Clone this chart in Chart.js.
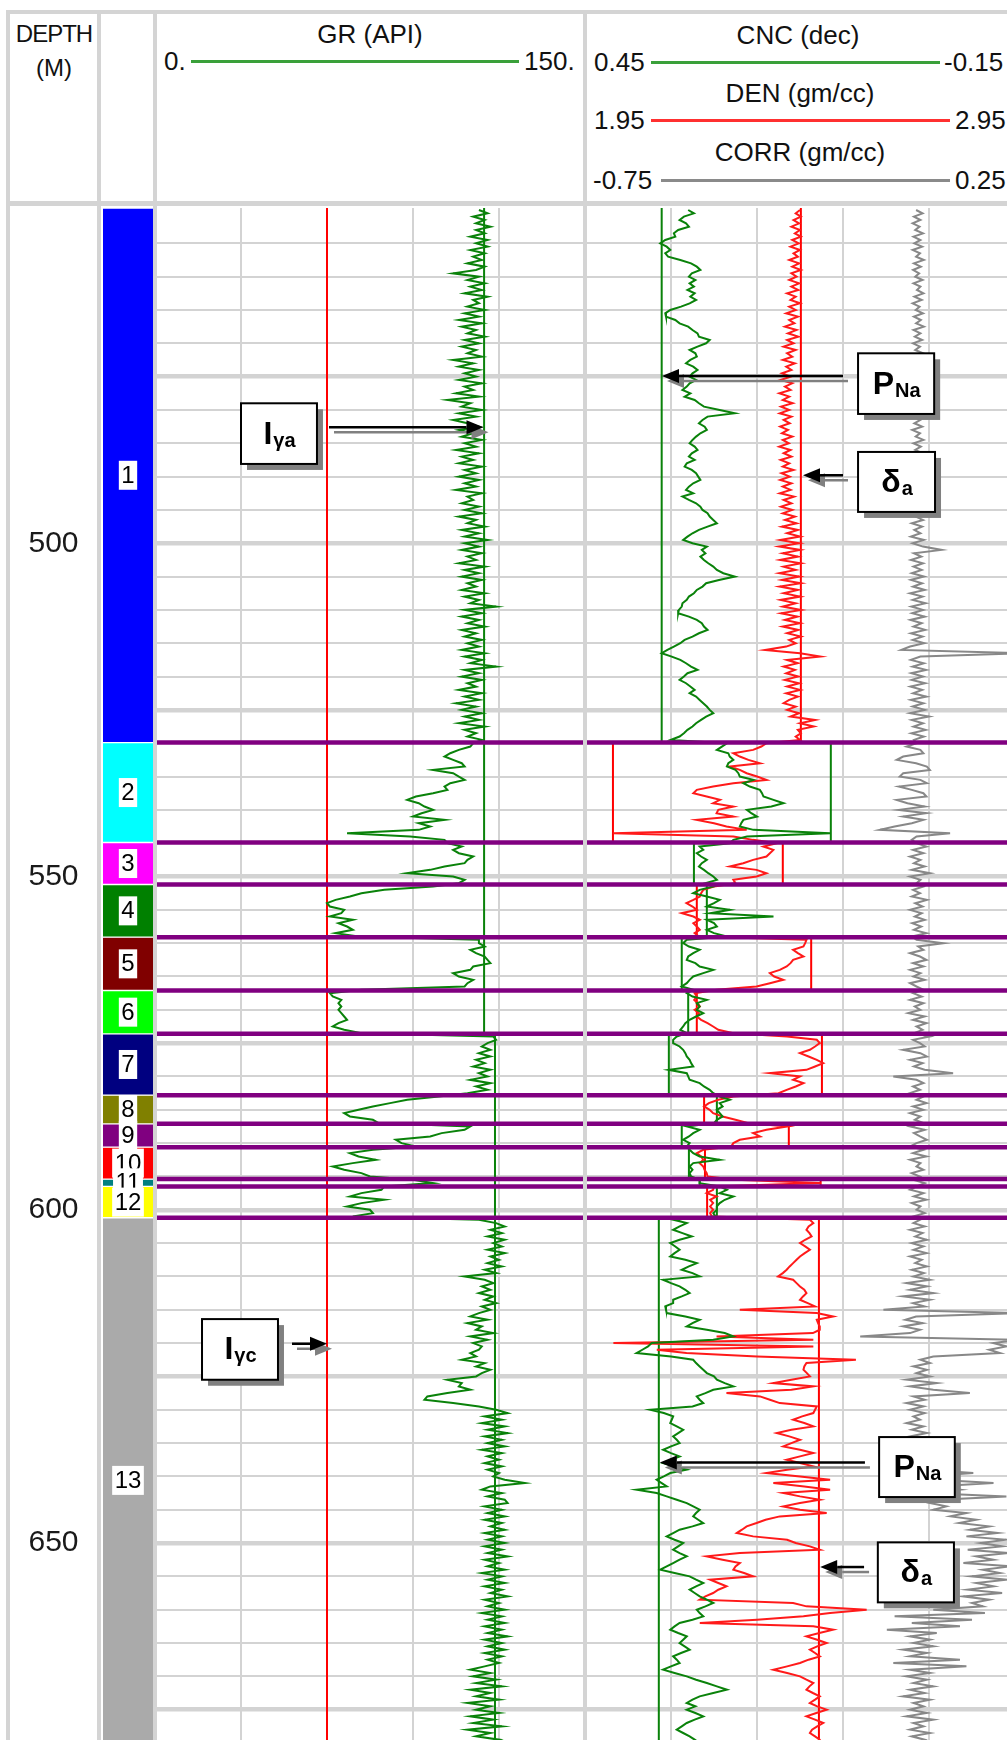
<!DOCTYPE html>
<html>
<head>
<meta charset="utf-8">
<script src="https://cdn.jsdelivr.net/npm/chart.js@4.4.1/dist/chart.umd.min.js"></script>
<style>
  body { margin: 0; background: #fff; }
  #log { position: relative; width: 1007px; height: 1740px; overflow: hidden;
         font-family: "Liberation Sans", Arial, sans-serif; color: #111; }
  #log canvas { position: absolute; }
  .sep { position: absolute; background: #d4d4d4; z-index: 3; }
  .t { position: absolute; white-space: nowrap; line-height: 1; font-size: 26px; }
  .c { transform: translate(-50%, -50%); }
  .l { transform: translateY(-50%); }
  .sw { position: absolute; height: 3px; }
</style>
</head>
<body>
<div id="log">
  <!-- header -->
  <div class="t c" style="left:54px;top:34px;font-size:24px;letter-spacing:-1px">DEPTH</div>
  <div class="t c" style="left:54px;top:68px;font-size:24px">(M)</div>

  <div class="t c" style="left:370px;top:34px">GR (API)</div>
  <div class="t l" style="left:164px;top:61px">0.</div>
  <div class="sw" style="left:191px;top:60px;width:328px;background:#3aa03a"></div>
  <div class="t l" style="left:524px;top:61px">150.</div>

  <div class="t c" style="left:798px;top:35px">CNC (dec)</div>
  <div class="t l" style="left:594px;top:62px">0.45</div>
  <div class="sw" style="left:651px;top:61px;width:289px;background:#3aa03a"></div>
  <div class="t l" style="left:944px;top:62px">-0.15</div>

  <div class="t c" style="left:800px;top:93px">DEN (gm/cc)</div>
  <div class="t l" style="left:594px;top:120px">1.95</div>
  <div class="sw" style="left:651px;top:119px;width:299px;background:#ff3030"></div>
  <div class="t l" style="left:955px;top:120px">2.95</div>

  <div class="t c" style="left:800px;top:152px">CORR (gm/cc)</div>
  <div class="t l" style="left:593px;top:180px">-0.75</div>
  <div class="sw" style="left:661px;top:179px;width:289px;background:#8a8a8a"></div>
  <div class="t l" style="left:955px;top:180px">0.25</div>

  <canvas id="zones" width="143" height="1535" style="left:10px;top:208px"></canvas>
  <canvas id="grTrack" width="430" height="1535" style="left:155px;top:208px"></canvas>
  <canvas id="cncTrack" width="430" height="1535" style="left:585px;top:208px"></canvas>

  <!-- frame -->
  <div class="sep" style="left:6px;top:10px;width:1001px;height:4px"></div>
  <div class="sep" style="left:6px;top:201px;width:1001px;height:5px"></div>
  <div class="sep" style="left:6px;top:10px;width:4px;height:1730px"></div>
  <div class="sep" style="left:97px;top:10px;width:4px;height:1730px"></div>
  <div class="sep" style="left:153px;top:10px;width:4px;height:1730px"></div>
  <div class="sep" style="left:583px;top:10px;width:4px;height:1730px"></div>
</div>

<script>
// depth axis
const depthTop = 450      // first log sample, m
const depthStep = 0.5     // sample spacing, m
const depthMin = 449.7
const depthMax = 680
const depthTicks = [500, 550, 600, 650]

// zonation
const zoneNames = ['1','2','3','4','5','6','7','8','9','10','11','12','13']
const zoneTops = [449.7, 529.9, 544.9, 551.2, 559.1, 567.1, 573.6, 582.8, 587.1, 590.6, 595.4, 596.5, 601.2]
const zoneColors = ['#0000ff','#00ffff','#ff00ff','#008000','#800000','#00ff00','#000080',
                    '#808000','#800080','#ff0000','#008080','#ffff00','#aaaaaa']
// per-zone baselines read in the CNC track
const cncBase = [0.343, 0.107, 0.298, 0.280, 0.315, 0.306, 0.333, 0.266, 0.315, 0.305, 0.290, 0.266, 0.347]
const denBase = [2.452, 2.015, 2.410, 2.210, 2.476, 2.210, 2.501, 2.227, 2.424, 2.229, 2.498, 2.234, 2.494]
// GR lines: [value, from depth, to depth]
const grRefs = [[60, 449.7, 680], [114.8, 449.7, 573.6], [118.6, 573.6, 680]]

// GR (API), one row = 5 m
const gr = [
  113,116,111,115,112,117,112,115,110,116,
  112,116,110,115,111,114,109,115,112,104,
  113,109,115,110,114,108,116,111,113,109,
  115,108,113,106,114,107,112,109,115,108,
  113,107,112,109,114,104,111,106,113,108,
  112,106,114,108,111,105,113,102,110,107,
  114,106,112,104,109,113,106,111,107,114,
  108,112,105,113,107,111,106,114,108,112,
  106,113,108,112,105,114,109,111,107,113,
  108,114,106,112,109,115,107,113,108,116,
  108,113,107,114,109,112,106,115,108,113,
  107,114,109,112,107,115,108,113,110,119,
  108,114,107,113,109,115,107,112,108,114,
  109,113,107,115,108,114,110,119,108,113,
  107,114,109,112,106,114,108,113,105,112,
  107,114,108,113,106,115,108,112,109,114,
  111,110,106,103,101,104,107,108,97,104,
  106,108,103,101,102,97,91,88,92,94,
  97,93,90,101,92,96,92,67,89,101,
  102,107,104,106,111,109,108,101,96,88,
  104,108,106,97,80,72,68,63,60,61,
  66,65,61,69,64,67,69,63,71,113,
  113,115,110,112,115,116,117,111,110,104,
  106,111,109,108,72,61,62,65,64,65,
  64,65,66,67,64,62,66,72,118,119,
  116,114,117,113,117,112,115,111,117,113,
  116,110,117,112,116,109,99,88,82,76,
  71,66,68,76,78,110,108,100,96,84,
  86,91,76,68,71,77,69,62,66,72,
  75,90,97,80,79,72,68,80,72,67,
  75,76,69,113,119,122,117,121,116,122,
  118,121,116,122,117,120,116,121,115,119,
  108,115,118,114,117,113,118,115,119,114,
  117,113,110,116,109,114,112,118,110,116,
  111,114,113,110,112,107,115,112,117,114,
  112,102,107,106,110,102,95,94,104,113,
  119,123,115,121,114,122,116,123,115,121,
  116,122,114,121,116,120,115,121,116,120,
  118,122,129,117,114,121,116,122,123,115,
  121,116,122,115,121,117,122,115,121,116,
  122,115,121,116,123,115,120,116,122,114,
  121,116,122,115,121,117,123,115,120,116,
  122,114,121,116,122,115,121,116,123,115,
  121,116,122,115,121,116,120,115,110,117,
  111,119,112,121,110,117,112,120,109,117,
  112,120,110,118,111,121,109,117,112,120,
  116
]

// CNC (dec)
const cnc = [
  0.306,0.298,0.312,0.318,0.309,0.305,0.320,0.326,0.324,0.338,
  0.345,0.336,0.331,0.338,0.334,0.317,0.302,0.294,0.289,0.301,
  0.305,0.296,0.304,0.298,0.307,0.297,0.303,0.295,0.304,0.316,
  0.331,0.338,0.337,0.324,0.318,0.306,0.300,0.293,0.291,0.276,
  0.281,0.293,0.304,0.296,0.294,0.303,0.309,0.299,0.293,0.300,
  0.304,0.295,0.304,0.308,0.314,0.303,0.311,0.297,0.291,0.284,
  0.262,0.241,0.279,0.286,0.291,0.283,0.280,0.289,0.295,0.300,
  0.304,0.297,0.293,0.301,0.305,0.297,0.308,0.311,0.301,0.295,
  0.292,0.289,0.299,0.305,0.309,0.299,0.314,0.305,0.295,0.289,
  0.286,0.279,0.276,0.271,0.266,0.279,0.291,0.300,0.307,0.313,
  0.300,0.280,0.287,0.282,0.289,0.284,0.278,0.271,0.266,0.257,
  0.241,0.263,0.281,0.286,0.294,0.298,0.305,0.308,0.314,0.315,
  0.319,0.320,0.305,0.294,0.287,0.284,0.279,0.291,0.300,0.311,
  0.317,0.326,0.335,0.343,0.329,0.317,0.309,0.302,0.293,0.307,
  0.312,0.318,0.309,0.303,0.297,0.304,0.295,0.290,0.285,0.280,
  0.276,0.271,0.281,0.288,0.295,0.300,0.307,0.312,0.318,0.330,
  0.252,0.259,0.266,0.250,0.248,0.243,0.250,0.252,0.240,0.236,
  0.234,0.215,0.229,0.220,0.206,0.203,0.201,0.187,0.173,0.190,
  0.224,0.218,0.210,0.229,0.232,0.234,0.215,0.108,0.224,0.243,
  0.248,0.290,0.285,0.294,0.288,0.280,0.287,0.291,0.284,0.278,
  0.271,0.266,0.282,0.271,0.290,0.299,0.280,0.262,0.270,0.280,
  0.248,0.275,0.187,0.280,0.270,0.266,0.280,0.270,0.252,0.308,
  0.313,0.305,0.290,0.299,0.306,0.308,0.296,0.290,0.271,0.285,
  0.299,0.304,0.308,0.315,0.299,0.308,0.300,0.280,0.294,0.290,
  0.294,0.285,0.295,0.304,0.310,0.313,0.317,0.308,0.322,0.327,
  0.327,0.318,0.313,0.310,0.308,0.304,0.302,0.299,0.333,0.308,
  0.306,0.304,0.290,0.284,0.276,0.271,0.262,0.248,0.262,0.258,
  0.266,0.262,0.258,0.266,0.270,0.308,0.290,0.299,0.305,0.313,
  0.304,0.308,0.304,0.299,0.290,0.262,0.299,0.304,0.300,0.304,
  0.302,0.290,0.290,0.262,0.252,0.262,0.243,0.255,0.262,0.266,
  0.266,0.271,0.268,0.327,0.308,0.318,0.327,0.314,0.301,0.318,
  0.331,0.324,0.318,0.325,0.331,0.310,0.294,0.305,0.315,0.300,
  0.290,0.341,0.330,0.318,0.310,0.304,0.315,0.327,0.327,0.338,
  0.337,0.336,0.310,0.290,0.300,0.308,0.280,0.255,0.243,0.271,
  0.357,0.362,0.370,0.378,0.330,0.299,0.295,0.290,0.285,0.280,
  0.270,0.266,0.255,0.243,0.271,0.282,0.294,0.290,0.285,0.300,
  0.359,0.340,0.327,0.329,0.331,0.322,0.313,0.320,0.327,0.322,
  0.318,0.330,0.341,0.330,0.318,0.330,0.341,0.325,0.308,0.331,
  0.340,0.350,0.343,0.336,0.378,0.350,0.336,0.322,0.308,0.299,
  0.290,0.295,0.299,0.292,0.285,0.300,0.318,0.327,0.336,0.325,
  0.313,0.320,0.327,0.318,0.308,0.318,0.327,0.336,0.345,0.325,
  0.304,0.295,0.285,0.295,0.304,0.297,0.290,0.280,0.271,0.282,
  0.294,0.290,0.285,0.300,0.318,0.325,0.331,0.320,0.308,0.313,
  0.318,0.311,0.304,0.316,0.327,0.322,0.318,0.330,0.341,0.325,
  0.308,0.295,0.280,0.266,0.252,0.271,0.290,0.300,0.308,0.296,
  0.308,0.296,0.285,0.297,0.308,0.315,0.322,0.313,0.304,0.297,
  0.290
]

// DEN (gm/cc)
const den = [
  2.450,2.440,2.452,2.435,2.448,2.430,2.450,2.438,2.452,2.432,
  2.447,2.428,2.450,2.435,2.445,2.425,2.448,2.432,2.452,2.430,
  2.442,2.425,2.448,2.430,2.446,2.420,2.440,2.428,2.450,2.425,
  2.440,2.418,2.445,2.425,2.437,2.415,2.442,2.422,2.446,2.420,
  2.435,2.412,2.440,2.420,2.432,2.410,2.438,2.418,2.430,2.408,
  2.428,2.405,2.432,2.415,2.428,2.402,2.425,2.410,2.433,2.406,
  2.425,2.403,2.430,2.412,2.426,2.404,2.422,2.408,2.432,2.410,
  2.424,2.402,2.428,2.412,2.430,2.405,2.425,2.410,2.435,2.407,
  2.426,2.404,2.430,2.410,2.428,2.403,2.436,2.412,2.430,2.406,
  2.432,2.410,2.438,2.415,2.442,2.408,2.445,2.420,2.450,2.404,
  2.448,2.402,2.450,2.410,2.445,2.404,2.452,2.412,2.440,2.402,
  2.448,2.408,2.452,2.403,2.445,2.412,2.450,2.405,2.440,2.410,
  2.452,2.406,2.444,2.415,2.450,2.410,2.446,2.420,2.452,2.425,
  2.440,2.418,2.369,2.450,2.497,2.420,2.445,2.412,2.438,2.418,
  2.446,2.415,2.448,2.420,2.450,2.418,2.445,2.425,2.412,2.440,
  2.420,2.448,2.428,2.485,2.450,2.482,2.445,2.452,2.440,2.450,
  2.372,2.360,2.341,2.295,2.310,2.330,2.357,2.287,2.310,2.326,
  2.350,2.372,2.295,2.248,2.210,2.202,2.233,2.264,2.248,2.295,
  2.260,2.256,2.295,2.210,2.250,2.279,2.326,2.016,2.295,2.341,
  2.396,2.365,2.388,2.380,2.372,2.341,2.318,2.287,2.349,2.372,
  2.349,2.295,2.300,2.250,2.225,2.220,2.217,2.202,2.186,2.200,
  2.210,2.175,2.202,2.217,2.202,2.210,2.217,2.205,2.215,2.465,
  2.462,2.458,2.434,2.445,2.458,2.434,2.428,2.419,2.403,2.380,
  2.390,2.411,2.380,2.349,2.256,2.205,2.210,2.204,2.212,2.217,
  2.205,2.215,2.210,2.220,2.235,2.248,2.260,2.295,2.420,2.489,
  2.496,2.485,2.473,2.450,2.470,2.489,2.504,2.485,2.465,2.380,
  2.450,2.434,2.458,2.440,2.419,2.400,2.295,2.260,2.238,2.227,
  2.240,2.248,2.270,2.300,2.330,2.420,2.372,2.341,2.357,2.310,
  2.295,2.290,2.225,2.210,2.220,2.225,2.217,2.225,2.228,2.233,
  2.235,2.300,2.498,2.250,2.248,2.233,2.256,2.241,2.248,2.241,
  2.248,2.241,2.245,2.473,2.481,2.470,2.465,2.472,2.477,2.462,
  2.450,2.462,2.473,2.461,2.450,2.442,2.434,2.426,2.419,2.410,
  2.399,2.434,2.442,2.450,2.460,2.465,2.457,2.450,2.468,2.485,
  2.310,2.489,2.527,2.489,2.492,2.496,2.496,2.480,2.256,2.481,
  2.016,2.481,2.117,2.186,2.350,2.580,2.465,2.460,2.458,2.466,
  2.473,2.430,2.388,2.481,2.430,2.279,2.357,2.380,2.403,2.489,
  2.485,2.481,2.455,2.434,2.460,2.481,2.430,2.396,2.425,2.450,
  2.430,2.411,2.450,2.481,2.450,2.419,2.450,2.481,2.420,2.372,
  2.450,2.520,2.388,2.460,2.520,2.411,2.450,2.496,2.450,2.411,
  2.450,2.512,2.403,2.370,2.349,2.326,2.315,2.303,2.341,2.420,
  2.440,2.473,2.496,2.310,2.233,2.270,2.310,2.300,2.295,2.320,
  2.341,2.241,2.260,2.279,2.260,2.248,2.230,2.217,2.434,2.465,
  2.605,2.520,2.458,2.350,2.217,2.481,2.527,2.495,2.465,2.490,
  2.512,2.490,2.473,2.485,2.496,2.470,2.450,2.420,2.388,2.420,
  2.450,2.465,2.481,2.472,2.465,2.480,2.496,2.485,2.473,2.490,
  2.512,2.488,2.465,2.485,2.504,2.490,2.478,2.473,2.485,2.496,
  2.496
]

// CORR (gm/cc)
const corr = [
  0.020,0.035,0.015,0.030,0.012,0.028,0.018,0.036,0.014,0.030,
  0.016,0.034,0.012,0.029,0.020,0.038,0.015,0.031,0.013,0.027,
  0.018,0.035,0.014,0.030,0.022,0.037,0.016,0.033,0.012,0.028,
  0.019,0.036,0.015,0.031,0.020,0.038,0.014,0.030,0.017,0.034,
  0.013,0.029,0.018,0.036,0.015,0.031,0.012,0.030,0.019,0.035,
  0.014,0.032,0.017,0.037,0.013,0.029,0.020,0.034,0.015,0.031,
  0.018,0.036,0.013,0.030,0.016,0.034,0.011,0.029,0.019,0.037,
  0.014,0.031,0.018,0.035,0.012,0.028,0.017,0.036,0.013,0.030,
  0.019,0.034,0.014,0.032,0.018,0.037,0.012,0.029,0.016,0.033,
  0.013,0.031,0.019,0.036,0.010,0.034,0.016,0.030,0.008,0.038,
  0.012,0.036,0.079,0.015,0.032,0.008,0.036,0.014,0.033,0.010,
  0.038,0.008,0.034,0.013,0.040,0.006,0.035,0.012,0.042,0.009,
  0.036,0.011,0.040,0.007,0.033,0.014,0.041,0.008,0.035,0.012,
  0.039,0.006,-0.014,0.260,0.030,0.008,0.038,0.012,0.043,0.009,
  0.036,0.010,0.041,0.007,0.034,0.013,0.044,0.008,0.037,0.012,
  0.040,0.006,0.050,0.010,0.036,0.014,0.042,0.009,0.038,0.015,
  0.021,-0.002,0.030,0.037,-0.010,-0.025,0.020,0.045,0.052,-0.010,
  -0.018,0.030,0.045,-0.020,0.010,0.037,0.044,-0.025,0.000,0.040,
  -0.020,0.044,-0.010,0.037,0.010,-0.030,-0.064,0.099,0.021,0.010,
  0.021,0.044,0.013,0.037,0.006,0.030,0.015,0.040,0.010,0.052,
  0.006,0.030,0.021,0.037,0.013,0.029,0.010,0.045,0.018,0.035,
  0.006,0.033,0.017,0.040,0.011,0.032,0.015,0.044,0.010,0.021,
  0.083,0.025,0.037,0.006,0.029,0.044,0.013,0.037,0.006,0.030,
  0.014,0.040,0.006,0.021,0.037,0.013,0.033,0.006,0.037,0.017,
  0.030,0.002,0.040,0.013,0.044,0.021,0.035,0.015,0.052,0.013,
  0.029,0.040,-0.010,0.030,0.045,0.006,0.035,0.015,0.040,0.106,
  -0.033,0.021,0.037,0.013,0.029,0.006,0.037,0.021,0.044,0.013,
  0.037,0.006,0.030,0.017,0.037,0.006,0.040,0.015,0.029,0.045,
  0.021,0.006,0.037,0.013,0.044,0.006,0.030,0.021,0.037,0.010,
  0.029,0.013,0.040,0.021,0.006,0.037,0.015,0.044,0.010,0.030,
  0.021,0.040,0.013,0.029,0.014,0.040,0.006,0.035,0.018,0.045,
  0.010,0.037,0.014,0.044,0.006,0.033,0.018,0.045,0.010,0.038,
  0.014,0.052,-0.002,0.045,0.006,0.060,-0.010,0.052,0.013,0.040,
  -0.056,0.260,0.020,-0.005,0.035,-0.010,0.029,0.006,-0.110,0.260,
  0.200,0.230,0.190,0.215,0.060,0.030,0.052,0.014,0.045,0.021,
  0.052,-0.002,0.068,0.006,0.060,0.145,0.014,0.040,-0.002,0.037,
  0.006,0.040,0.014,0.029,-0.002,0.037,0.010,0.045,0.006,0.033,
  0.014,0.045,0.021,0.037,0.010,0.052,0.029,0.060,0.045,0.153,
  0.040,0.068,0.200,0.060,0.122,0.045,0.230,0.075,0.052,0.090,
  0.060,0.137,0.100,0.160,0.120,0.190,0.145,0.210,0.137,0.230,
  0.170,0.220,0.140,0.235,0.160,0.200,0.130,0.240,0.175,0.215,
  0.150,0.230,0.160,0.200,0.140,0.220,0.130,0.190,0.150,0.175,
  0.060,0.180,-0.030,0.150,0.010,0.122,-0.048,0.068,0.006,0.052,
  0.014,0.060,-0.010,0.045,0.006,0.122,-0.033,0.137,0.006,0.052,
  -0.002,0.045,0.014,0.060,0.006,0.040,-0.010,0.052,0.014,0.037,
  0.006,0.045,-0.002,0.060,0.014,0.037,0.006,0.052,0.010,0.040,
  0.021
]

// callouts, in track units (box x1,x2,depth1,depth2 / arrow from,to,depth)
const grNotes = [
  {main: 'I', sub: 'γa', box: [30.0, 56.5, 479.0, 488.1], arrow: [60.7, 114.6, 482.6]},
  {main: 'I', sub: 'γc', box: [16.4, 42.9, 616.4, 625.5], arrow: [47.8, 60.0, 620.1]}
]
const denNotes = [
  {main: 'P', sub: 'Na', box: [2.585, 2.762, 471.5, 480.6], arrow: [2.550, 2.129, 474.9]},
  {main: 'δ', sub: 'a', box: [2.585, 2.764, 486.3, 495.3], arrow: [2.550, 2.457, 489.8]},
  {main: 'P', sub: 'Na', box: [2.634, 2.810, 634.1, 643.1], arrow: [2.601, 2.124, 637.9]},
  {main: 'δ', sub: 'a', box: [2.631, 2.808, 649.9, 658.9], arrow: [2.599, 2.497, 653.6]}
]

const depth = gr.map((_, i) => depthTop + i * depthStep)
const zoneBase = i => (i + 1 < zoneTops.length ? zoneTops[i + 1] : depthMax)
const gridDepths = []
for (let d = 455; d <= depthMax; d += 5) gridDepths.push(d)

const FONT = '"Liberation Sans", Arial, sans-serif'
const GRID = '#d3d3d3'

function curve(values, axis, color, width) {
  return {
    data: values.map((v, i) => ({x: v, y: depth[i]})),
    xAxisID: axis, showLine: true, borderColor: color, borderWidth: width || 2,
    pointRadius: 0, tension: 0, order: 1
  }
}
function vline(value, d1, d2, axis, color) {
  return {
    data: [{x: value, y: d1}, {x: value, y: d2}],
    xAxisID: axis, showLine: true, borderColor: color, borderWidth: 2,
    pointRadius: 0, order: 2
  }
}
function zoneLines(axis, x1, x2) {
  return zoneTops.slice(1).map(d => ({
    data: [{x: x1, y: d}, {x: x2, y: d}],
    xAxisID: axis, showLine: true, borderColor: '#800080', borderWidth: 4.5,
    pointRadius: 0, order: 0
  }))
}

function depthScale() {
  return {
    type: 'linear', min: depthMin, max: depthMax, reverse: true,
    afterBuildTicks: s => { s.ticks = gridDepths.map(v => ({value: v})) },
    ticks: {display: false},
    grid: {color: GRID, drawTicks: false,
           lineWidth: c => (c.tick && c.tick.value % 25 === 0) ? 4.5 : 2},
    border: {display: false}
  }
}
function valueScale(min, max, lines, extra) {
  return Object.assign({
    type: 'linear', axis: 'x', position: 'bottom', min: min, max: max,
    afterBuildTicks: s => { s.ticks = lines.map(v => ({value: v})) },
    ticks: {display: false},
    grid: {color: GRID, lineWidth: 2, drawTicks: false},
    border: {display: false}
  }, extra || {})
}

function drawArrow(ctx, x1, x2, y, color) {
  const dir = x2 > x1 ? 1 : -1, head = 17, half = 7
  ctx.strokeStyle = color
  ctx.fillStyle = color
  ctx.lineWidth = 2.5
  ctx.beginPath()
  ctx.moveTo(x1, y)
  ctx.lineTo(x2 - dir * head, y)
  ctx.stroke()
  ctx.beginPath()
  ctx.moveTo(x2, y)
  ctx.lineTo(x2 - dir * head, y - half)
  ctx.lineTo(x2 - dir * head, y + half)
  ctx.closePath()
  ctx.fill()
}

function calloutPlugin(notes, axis) {
  return {
    id: 'callouts',
    afterDatasetsDraw(chart) {
      const ctx = chart.ctx, xs = chart.scales[axis], ys = chart.scales.y
      ctx.save()
      notes.forEach(n => {
        const x1 = xs.getPixelForValue(n.box[0]), x2 = xs.getPixelForValue(n.box[1])
        const y1 = ys.getPixelForValue(n.box[2]), y2 = ys.getPixelForValue(n.box[3])
        const w = x2 - x1, h = y2 - y1
        ctx.fillStyle = '#808080'
        ctx.fillRect(x1 + 6, y1 + 6, w, h)
        ctx.fillStyle = '#fff'
        ctx.fillRect(x1, y1, w, h)
        ctx.lineWidth = 2
        ctx.strokeStyle = '#000'
        ctx.strokeRect(x1, y1, w, h)

        ctx.font = 'bold 32px ' + FONT
        const mw = ctx.measureText(n.main).width
        ctx.font = 'bold 20px ' + FONT
        const sw = ctx.measureText(n.sub).width
        const sx = x1 + (w - mw - sw) / 2, cy = y1 + h / 2
        ctx.fillStyle = '#000'
        ctx.textBaseline = 'alphabetic'
        ctx.textAlign = 'left'
        ctx.font = 'bold 32px ' + FONT
        ctx.fillText(n.main, sx, cy + 10)
        ctx.font = 'bold 20px ' + FONT
        ctx.fillText(n.sub, sx + mw + 1, cy + 13)

        const ax1 = xs.getPixelForValue(n.arrow[0]), ax2 = xs.getPixelForValue(n.arrow[1])
        const ay = ys.getPixelForValue(n.arrow[2])
        drawArrow(ctx, ax1 + 5, ax2 + 5, ay + 5, '#808080')
        drawArrow(ctx, ax1, ax2, ay, '#000')
      })
      ctx.restore()
    }
  }
}

const zoneLabelPlugin = {
  id: 'zoneLabels',
  afterDatasetsDraw(chart) {
    const {ctx, chartArea: a} = chart
    const y = chart.scales.y
    ctx.save()
    ctx.textAlign = 'center'
    ctx.textBaseline = 'middle'
    ctx.font = '24px ' + FONT
    const cx = (a.left + a.right) / 2
    zoneNames.forEach((name, i) => {
      const py = y.getPixelForValue((zoneTops[i] + zoneBase(i)) / 2)
      const w = ctx.measureText(name).width + 5
      ctx.fillStyle = '#fff'
      ctx.fillRect(cx - w / 2, py - 14.5, w, 29)
      ctx.fillStyle = '#000'
      ctx.fillText(name, cx, py + 1)
    })
    ctx.font = '30px ' + FONT
    ctx.fillStyle = '#1a1a1a'
    depthTicks.forEach(d => ctx.fillText(String(d), 43.5, y.getPixelForValue(d)))
    ctx.restore()
  }
}

const common = {
  responsive: false, animation: false, events: [],
  plugins: {legend: {display: false}, tooltip: {enabled: false}}
}

// zone column + depth labels
new Chart(document.getElementById('zones'), {
  type: 'bar',
  data: {
    labels: ['zone'],
    datasets: zoneNames.map((name, i) => ({
      label: name,
      data: [[zoneTops[i], zoneBase(i)]],
      backgroundColor: zoneColors[i],
      borderColor: '#ffffff',
      borderWidth: {top: 1, bottom: 1, left: 0, right: 0},
      borderSkipped: false,
      grouped: false, barPercentage: 1, categoryPercentage: 1
    }))
  },
  options: Object.assign({}, common, {
    layout: {padding: {left: 93}},
    scales: {
      x: {display: false},
      y: {display: false, min: depthMin, max: depthMax, reverse: true}
    }
  }),
  plugins: [zoneLabelPlugin]
})

// GR track
new Chart(document.getElementById('grTrack'), {
  type: 'scatter',
  data: {
    datasets: [
      ...zoneLines('x', 0, 150),
      curve(gr, 'x', '#0a820a'),
      vline(grRefs[0][0], grRefs[0][1], grRefs[0][2], 'x', '#ff0000'),
      vline(grRefs[1][0], grRefs[1][1], grRefs[1][2], 'x', '#0a820a'),
      vline(grRefs[2][0], grRefs[2][1], grRefs[2][2], 'x', '#0a820a')
    ]
  },
  options: Object.assign({}, common, {
    scales: {
      x: valueScale(0, 150, [30, 60, 90, 120]),
      y: depthScale()
    }
  }),
  plugins: [calloutPlugin(grNotes, 'x')]
})

// CNC / DEN / CORR track
const baseLines = []
zoneNames.forEach((_, i) => {
  baseLines.push(vline(cncBase[i], zoneTops[i], zoneBase(i), 'cnc', '#0a820a'))
  baseLines.push(vline(denBase[i], zoneTops[i], zoneBase(i), 'den', '#ff0000'))
})
new Chart(document.getElementById('cncTrack'), {
  type: 'scatter',
  data: {
    datasets: [
      ...zoneLines('den', 1.95, 2.95),
      curve(cnc, 'cnc', '#0a820a'),
      curve(den, 'den', '#ff1a1a'),
      curve(corr, 'corr', '#888888'),
      ...baseLines
    ]
  },
  options: Object.assign({}, common, {
    scales: {
      den: valueScale(1.95, 2.95, [2.15, 2.35, 2.55, 2.75]),
      cnc: valueScale(-0.15, 0.45, [], {reverse: true, display: false}),
      corr: valueScale(-0.75, 0.25, [], {display: false}),
      y: depthScale()
    }
  }),
  plugins: [calloutPlugin(denNotes, 'den')]
})
</script>
</body>
</html>
